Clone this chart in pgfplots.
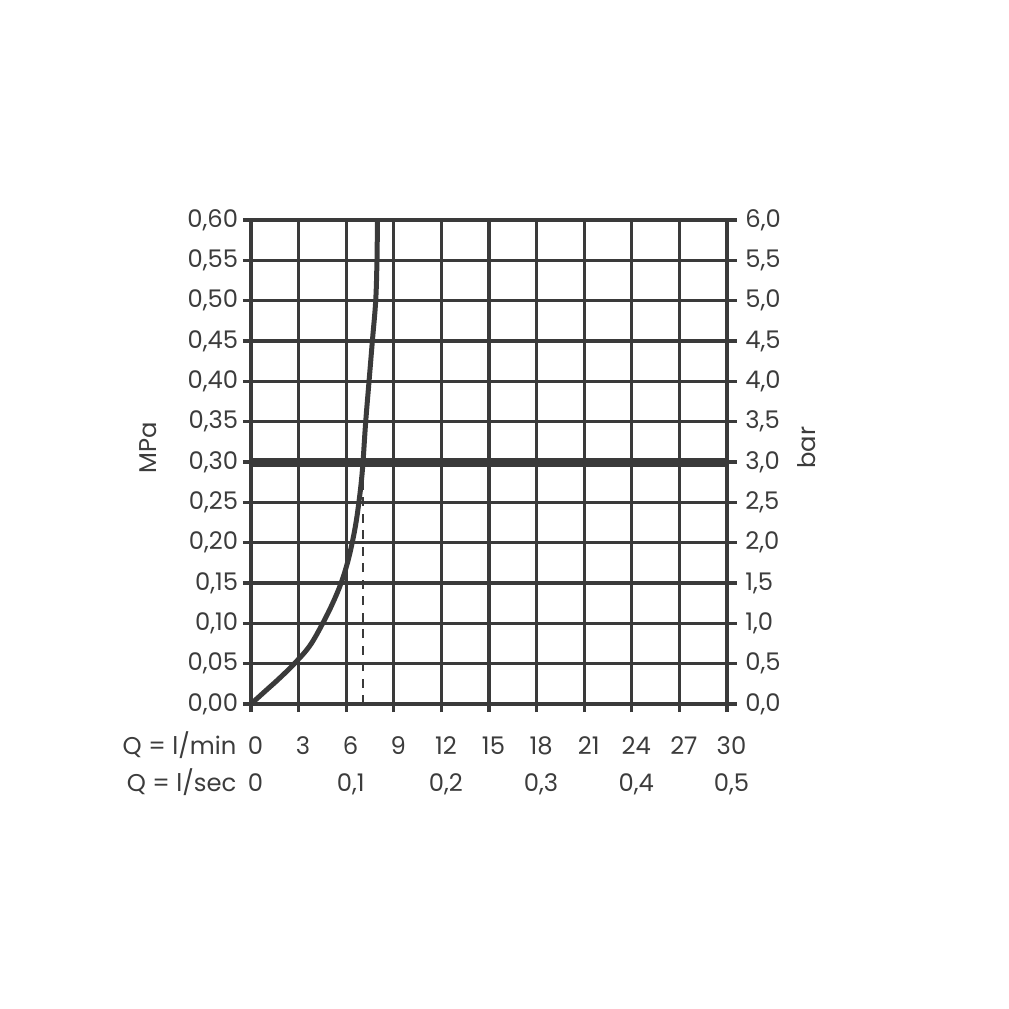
\documentclass[border=0pt]{standalone}
\usepackage{fontspec}
\setmainfont{Poppins}
\usepackage{pgfplots}
\pgfplotsset{compat=1.18}
\definecolor{ink}{HTML}{3A3A3A}
\definecolor{txt}{HTML}{3C3C3C}
\newcommand{\lbl}{\fontsize{6.9}{8}\selectfont\color{txt}}
\begin{document}
\begin{tikzpicture}
\useasboundingbox (-25.1mm,-30.5mm) rectangle (75.8mm,70.4mm);
\begin{axis}[
  at={(0,0)}, anchor=south west,
  scale only axis, width=47.6mm, height=48.4mm,
  xmin=0, xmax=30, ymin=0, ymax=0.6,
  xtick={0,3,6,9,12,15,18,21,24,27,30},
  ytick={0,0.05,0.1,0.15,0.2,0.25,0.3,0.35,0.4,0.45,0.5,0.55,0.6},
  xtick pos=bottom, ytick pos=left,
  tick align=outside, major tick length=0.8mm,
  grid=major,
  grid style={ink, line width=0.32mm},
  axis line style={ink, line width=0.34mm},
  tick style={ink, line width=0.32mm},
  ticklabel style={font=\lbl},
  /pgf/number format/assume math mode=true,
  yticklabel style={/pgf/number format/fixed, /pgf/number format/fixed zerofill, /pgf/number format/precision=2, /pgf/number format/use comma, xshift=0.75mm},
  xticklabel style={anchor=base, inner sep=0pt, yshift=-4.25mm, xshift=0.45mm},
  ylabel={MPa},
  ylabel style={font=\lbl, at={(axis description cs:-0.216,0.53)}, anchor=center},
  clip=false,
]
\addplot[ink, line width=0.9mm] coordinates {(0,0.3) (30,0.3)};
\addplot[ink, line width=0.2mm, dash pattern=on 0.9mm off 0.75mm] coordinates {(7.06,0) (7.06,0.292)};
\addplot[ink, line width=0.5mm, smooth, tension=0.6] coordinates {
(0,0) (0.9,0.016) (1.8,0.032) (2.73,0.05) (3.7,0.072) (4.52,0.10) (5.15,0.125) (5.68,0.15)
(6.08,0.175) (6.38,0.20) (6.62,0.225) (6.80,0.25) (6.95,0.275) (7.06,0.30) (7.23,0.35) (7.44,0.40)
(7.65,0.45) (7.86,0.50) (7.94,0.55) (7.97,0.60)};
\node[font=\lbl, anchor=base east, inner sep=0pt] at (axis cs:0,0) [xshift=-1.4mm, yshift=-5.0mm] {Q = l/min};
\node[font=\lbl, anchor=base east, inner sep=0pt] at (axis cs:0,0) [xshift=-1.4mm, yshift=-8.7mm] {Q = l/sec};
\node[font=\lbl, anchor=base, inner sep=0pt] at (axis cs:0,0) [xshift=0.45mm, yshift=-8.7mm] {0};
\node[font=\lbl, anchor=base, inner sep=0pt] at (axis cs:6,0) [xshift=0.45mm, yshift=-8.7mm] {0,1};
\node[font=\lbl, anchor=base, inner sep=0pt] at (axis cs:12,0) [xshift=0.45mm, yshift=-8.7mm] {0,2};
\node[font=\lbl, anchor=base, inner sep=0pt] at (axis cs:18,0) [xshift=0.45mm, yshift=-8.7mm] {0,3};
\node[font=\lbl, anchor=base, inner sep=0pt] at (axis cs:24,0) [xshift=0.45mm, yshift=-8.7mm] {0,4};
\node[font=\lbl, anchor=base, inner sep=0pt] at (axis cs:30,0) [xshift=0.45mm, yshift=-8.7mm] {0,5};
\end{axis}
\begin{axis}[
  at={(0,0)}, anchor=south west,
  scale only axis, width=47.6mm, height=48.4mm,
  xmin=0, xmax=30, ymin=0, ymax=6,
  axis x line=none, axis y line*=right,
  ytick={0,0.5,1,1.5,2,2.5,3,3.5,4,4.5,5,5.5,6},
  tick align=outside, major tick length=1.0mm,
  axis line style={ink, line width=0.34mm},
  tick style={ink, line width=0.32mm},
  ticklabel style={font=\lbl},
  /pgf/number format/assume math mode=true,
  yticklabel style={/pgf/number format/fixed, /pgf/number format/fixed zerofill, /pgf/number format/precision=1, /pgf/number format/use comma, xshift=-0.4mm},
  ylabel={bar},
  ylabel style={font=\lbl, at={(axis description cs:1.168,0.53)}, anchor=center, rotate=0},
]
\end{axis}
\end{tikzpicture}
\end{document}
